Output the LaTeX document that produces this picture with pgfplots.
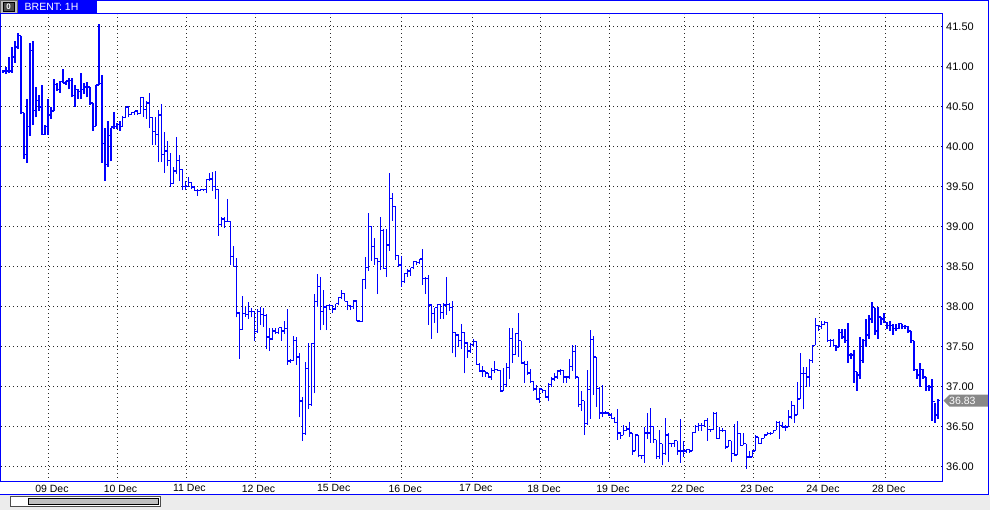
\documentclass[border=0pt]{standalone}
\usepackage{pgfplots}
\pgfplotsset{compat=1.18}
\usepackage{pgfplotstable}
\usepackage{fontspec}
\setmainfont{Liberation Sans}
\definecolor{chartblue}{RGB}{0,0,255}
\definecolor{gridgray}{RGB}{40,40,40}
\definecolor{panelgray}{RGB}{236,236,236}
\definecolor{taggray}{RGB}{136,136,136}
\definecolor{thumbgray}{RGB}{192,192,192}

% hourly bars: high, low, close (open = previous close)
\pgfplotstableread{
h l c
40.96 40.93 40.95
41.00 40.91 40.95
41.125 40.93 40.95
41.25 40.93 41.125
41.33 41.05 41.25
41.43 41.22 41.39
41.39 40.41 40.43
40.43 39.85 39.91
40.60 39.80 40.26
41.30 40.14 41.21
41.32 40.27 40.46
40.75 40.37 40.58
40.65 40.45 40.50
40.78 40.15 40.16
40.28 40.15 40.26
40.60 40.15 40.40
40.50 40.35 40.45
40.85 40.45 40.78
40.80 40.70 40.72
40.83 40.68 40.82
40.97 40.80 40.80
40.83 40.78 40.825
40.86 40.72 40.83
40.86 40.62 40.64
40.78 40.50 40.72
40.73 40.60 40.69
40.93 40.60 40.72
40.80 40.66 40.75
40.81 40.62 40.75
40.75 40.53 40.55
40.55 40.20 40.26
40.78 40.26 40.775
41.54 40.77 40.79
40.90 39.80 40.04
40.24 39.575 39.78
40.32 39.75 40.14
40.24 39.82 40.25
40.44 40.22 40.26
40.30 40.22 40.28
40.325 40.20 40.26
40.39 40.26 40.37
40.50 40.36 40.50
40.50 40.37 40.41
40.44 40.40 40.43
40.45 40.40 40.45
40.45 40.40 40.42
40.625 40.42 40.62
40.62 40.37 40.47
40.58 40.35 40.55
40.67 40.24 40.37
40.37 40.03 40.19
40.37 40.03 40.16
40.46 39.81 40.40
40.54 39.81 39.91
40.19 39.675 39.95
40.07 39.76 39.83
39.92 39.50 39.545
39.75 39.54 39.70
40.12 39.66 39.83
39.90 39.58 39.72
39.72 39.46 39.51
39.575 39.46 39.51
39.625 39.50 39.56
39.56 39.47 39.50
39.50 39.45 39.46
39.48 39.39 39.46
39.48 39.45 39.47
39.48 39.45 39.47
39.60 39.42 39.595
39.675 39.57 39.60
39.69 39.45 39.51
39.70 39.35 39.47
39.47 38.89 39.03
39.12 39.01 39.10
39.12 38.99 39.07
39.35 39.07 39.07
39.07 38.53 38.63
38.76 38.51 38.51
38.61 37.87 37.925
37.93 37.35 37.72
38.14 37.72 37.92
38.00 37.88 37.91
38.06 37.85 37.94
37.99 37.87 37.94
37.94 37.575 37.69
37.97 37.68 37.94
38.00 37.78 37.91
37.99 37.75 37.89
37.91 37.47 37.625
37.74 37.45 37.60
37.74 37.60 37.70
37.74 37.66 37.68
37.74 37.66 37.74
37.74 37.58 37.70
37.825 37.66 37.73
37.97 37.275 37.325
37.35 37.30 37.33
37.64 37.325 37.58
37.62 37.28 37.375
37.43 36.62 36.825
36.87 36.325 36.42
37.31 36.40 37.23
37.55 36.73 36.78
37.545 36.76 37.54
38.16 36.92 38.07
38.41 38.00 38.26
38.375 37.71 37.94
38.21 37.78 38.00
38.03 37.71 38.02
38.04 37.96 38.02
38.03 37.92 37.975
38.04 37.96 38.04
38.12 38.02 38.12
38.21 38.10 38.17
38.17 38.07 38.07
38.07 37.96 38.02
38.03 37.96 38.01
38.09 37.98 38.075
38.08 37.82 37.825
37.83 37.81 37.82
38.35 37.82 38.34
38.63 38.23 38.49
39.18 38.45 39.01
39.01 38.58 38.76
38.86 38.53 38.61
38.61 38.16 38.57
39.125 38.46 38.96
38.97 38.48 38.48
38.98 38.38 38.775
39.68 38.70 39.36
39.43 39.075 39.26
39.26 38.59 38.64
38.64 38.50 38.525
38.64 38.25 38.32
38.42 38.30 38.42
38.47 38.38 38.45
38.49 38.39 38.49
38.58 38.47 38.57
38.57 38.52 38.56
38.60 38.54 38.60
38.72 38.28 38.36
38.37 38.16 38.36
38.40 37.775 38.025
38.025 37.60 37.92
37.99 37.80 37.99
38.04 37.68 38.03
38.03 37.85 37.93
38.05 37.85 38.025
38.37 37.90 38.03
38.05 37.95 37.99
38.07 37.42 37.68
37.68 37.37 37.65
37.66 37.50 37.58
37.79 37.47 37.68
37.68 37.17 37.55
37.55 37.36 37.45
37.55 37.43 37.53
37.60 37.50 37.57
37.58 37.28 37.28
37.30 37.20 37.20
37.26 37.13 37.20
37.20 37.13 37.175
37.18 37.12 37.125
37.24 37.09 37.21
37.33 37.18 37.22
37.22 37.20 37.21
37.21 36.95 36.95
37.24 36.95 37.03
37.30 37.00 37.24
37.74 37.10 37.61
37.74 37.30 37.41
37.675 37.40 37.67
37.92 37.375 37.58
37.58 37.30 37.30
37.33 37.05 37.28
37.33 37.15 37.175
37.22 37.05 37.07
37.07 36.95 36.975
37.02 36.85 36.85
36.97 36.80 36.975
36.975 36.93 36.96
36.96 36.87 36.875
37.05 36.82 37.03
37.125 37.00 37.10
37.17 37.08 37.125
37.21 37.10 37.20
37.22 37.15 37.21
37.21 37.05 37.125
37.125 37.05 37.125
37.35 37.10 37.26
37.53 37.20 37.445
37.53 37.10 37.125
37.125 36.75 36.78
36.95 36.70 36.83
36.83 36.40 36.54
37.21 36.53 36.97
37.71 36.60 37.59
37.64 36.90 37.375
37.375 36.75 36.98
37.00 36.60 36.675
37.02 36.62 36.675
36.70 36.66 36.675
36.69 36.64 36.65
36.67 36.60 36.61
36.62 36.55 36.56
36.725 36.34 36.425
36.44 36.35 36.39
36.52 36.40 36.46
36.51 36.45 36.475
36.56 36.38 36.425
36.425 36.15 36.20
36.40 36.20 36.40
36.40 36.12 36.14
36.15 36.10 36.14
36.50 36.05 36.425
36.675 36.35 36.425
36.74 36.30 36.51
36.51 36.30 36.34
36.34 36.10 36.13
36.46 36.10 36.29
36.29 36.02 36.17
36.61 36.15 36.40
36.425 36.06 36.29
36.30 36.25 36.29
36.34 36.25 36.33
36.33 36.15 36.20
36.60 36.05 36.20
36.32 36.13 36.20
36.225 36.17 36.22
36.22 36.18 36.20
36.43 36.20 36.43
36.52 36.42 36.51
36.55 36.45 36.52
36.55 36.45 36.52
36.58 36.50 36.58
36.61 36.33 36.47
36.48 36.44 36.47
36.69 36.46 36.67
36.69 36.35 36.36
36.50 36.35 36.46
36.49 36.44 36.46
36.46 36.23 36.25
36.33 36.25 36.33
36.33 36.06 36.17
36.54 36.15 36.15
36.57 36.15 36.42
36.42 36.27 36.27
36.42 36.27 36.29
36.29 35.98 36.125
36.20 36.12 36.125
36.20 36.12 36.20
36.40 36.20 36.375
36.375 36.29 36.29
36.36 36.29 36.36
36.40 36.36 36.40
36.44 36.40 36.42
36.44 36.40 36.42
36.46 36.42 36.46
36.57 36.46 36.56
36.57 36.35 36.52
36.56 36.50 36.50
36.52 36.45 36.50
36.71 36.50 36.625
36.83 36.60 36.77
36.77 36.55 36.65
37.06 36.65 36.85
37.42 36.85 37.17
37.25 36.72 37.17
37.25 37.00 37.125
37.35 37.00 37.33
37.52 37.30 37.52
37.86 37.52 37.77
37.77 37.70 37.76
37.82 37.72 37.78
37.82 37.77 37.81
37.81 37.56 37.58
37.60 37.50 37.58
37.60 37.50 37.52
37.52 37.45 37.50
37.73 37.50 37.68
37.73 37.60 37.625
37.73 37.55 37.58
37.80 37.30 37.40
37.42 37.35 37.40
37.46 37.05 37.19
37.19 36.95 37.15
37.625 37.10 37.33
37.60 37.30 37.58
37.85 37.50 37.65
37.90 37.60 37.85
38.06 37.80 37.99
37.99 37.65 37.70
38.00 37.60 37.875
37.875 37.78 37.85
37.92 37.80 37.81
37.81 37.72 37.77
37.82 37.70 37.77
37.79 37.65 37.73
37.79 37.70 37.73
37.80 37.73 37.79
37.79 37.72 37.76
37.78 37.73 37.76
37.76 37.68 37.70
37.70 37.55 37.58
37.58 37.20 37.22
37.22 37.10 37.15
37.30 37.00 37.22
37.22 37.10 37.125
37.125 36.95 37.01
37.02 36.95 37.00
37.10 36.58 36.82
36.80 36.55 36.65
36.85 36.60 36.83
}\ohlc

\begin{document}
\begin{tikzpicture}[x=1pt,y=1pt]
\useasboundingbox (0,0) rectangle (990,510);
\fill[white] (0,0) rectangle (990,510);
% bottom panel with scrollbar
\fill[panelgray] (0,0) rectangle (990,15);
\draw[chartblue, line width=1pt] (0,15.5) -- (989,15.5);
\filldraw[fill=white, draw=black!70, line width=0.8pt] (10.5,3.5) rectangle (160.5,13.5);
\filldraw[fill=thumbgray, draw=black, line width=0.8pt] (28.5,5.5) rectangle (158.5,11.5);
% window borders
\draw[chartblue, line width=1pt] (988.5,15) -- (988.5,510);
\draw[chartblue, line width=1pt] (97,509.5) -- (989,509.5);
% title tab
\filldraw[fill=black!25, draw=black!60, line width=0.8pt] (0.4,496.4) rectangle (17,509.6);
\filldraw[fill=black!70, draw=black, line width=0.6pt] (3,499) rectangle (14.5,507.5);
\node[white, font=\fontsize{8}{8}\selectfont\bfseries, inner sep=0pt] at (8.7,503.2) {0};
\fill[chartblue] (18,496) rectangle (97,510);
\node[white, anchor=west, inner sep=0pt, font=\fontsize{10.5}{11}\selectfont] at (24.5,503) {BRENT: 1H};

\begin{axis}[
  at={(1pt,28pt)}, anchor=south west,
  scale only axis, width=941pt, height=468pt,
  xmin=-0.6667, xmax=313.3333, ymin=35.8125, ymax=41.6625,
  axis line style={chartblue, line width=1pt},
  major tick length=0pt,
  xtick={15.23,38.1,61.1,84.17,109.23,133.1,156.67,179.43,202.43,227.43,250.5,272.5,294.43},
  xticklabels={09 Dec,10 Dec,11 Dec,12 Dec,15 Dec,16 Dec,17 Dec,18 Dec,19 Dec,22 Dec,23 Dec,24 Dec,28 Dec},
  ytick={36,36.5,37,37.5,38,38.5,39,39.5,40,40.5,41,41.5},
  yticklabel pos=right,
  yticklabel={\pgfmathprintnumber[fixed,fixed zerofill,precision=2,assume math mode=true]{\tick}},
  yticklabel style={anchor=west, inner sep=0pt, xshift=4pt, font=\fontsize{11}{13}\selectfont},
  xticklabel style={anchor=north, inner sep=0pt, yshift=-2.5pt, xshift=3.3pt, font=\fontsize{10.5}{12}\selectfont},
  grid=major,
  grid style={gridgray, line width=1pt, dash pattern=on 1pt off 3pt},
  clip=true,
]
% high-low lines
\addplot[draw=none, mark=none, forget plot,
  error bars/.cd, y dir=plus, y explicit, error mark=none,
  error bar style={draw=chartblue, line width=1.25pt, solid}]
  table[x expr=\coordindex, y=l, y error plus expr=\thisrow{h}-\thisrow{l}] {\ohlc};
% close ticks (right)
\addplot[draw=none, mark=none, forget plot,
  error bars/.cd, x dir=plus, x fixed=0.5, error mark=none,
  error bar style={draw=chartblue, line width=1.25pt, solid}]
  table[x expr=\coordindex, y=c] {\ohlc};
% open ticks (left) = previous close
\addplot[draw=none, mark=none, forget plot, skip coords between index={312}{313},
  error bars/.cd, x dir=minus, x fixed=0.5, error mark=none,
  error bar style={draw=chartblue, line width=1.25pt, solid}]
  table[x expr=\coordindex+1, y=c] {\ohlc};
\end{axis}

% last price tag
\fill[taggray] (943.5,109.4) -- (949.5,115.4) -- (988,115.4) -- (988,103.4) -- (949.5,103.4) -- cycle;
\node[white, anchor=west, inner sep=0pt, font=\fontsize{10.5}{12}\selectfont] at (949,109.4) {36.83};
\end{tikzpicture}
\end{document}
